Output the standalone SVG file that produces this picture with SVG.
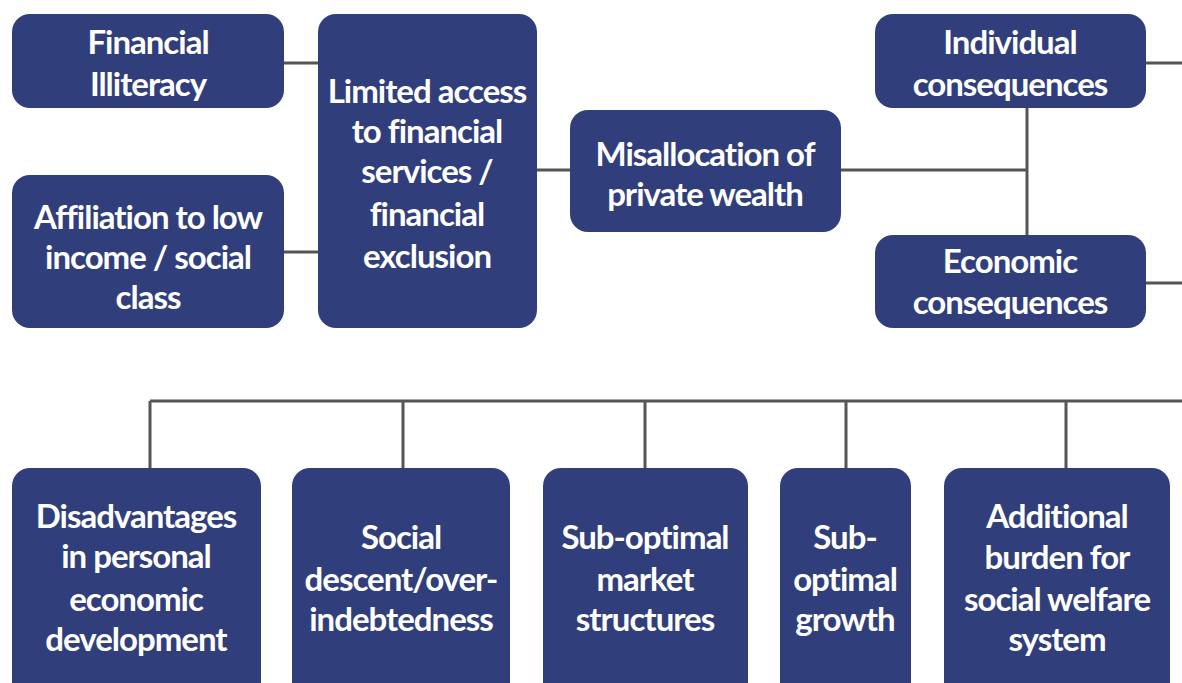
<svg xmlns="http://www.w3.org/2000/svg" width="1182" height="683" viewBox="0 0 1182 683">
  <style>
    .box { fill: #313e7c; }
    .lbl { fill: #ffffff; font-family: Lato, "Open Sans", "Liberation Sans", sans-serif; font-weight: 700; font-size: 33px; letter-spacing: -1px; text-anchor: middle; }
    .wire { fill: none; stroke: #555555; stroke-width: 3; }
  </style>
  <rect width="1182" height="683" fill="#ffffff"/>

  <!-- connectors -->
  <g id="connectors" class="wire">
    <path d="M284 63 H318"/>
    <path d="M284 252 H318"/>
    <path d="M537 170 H570"/>
    <path d="M841 170 H1027"/>
    <path d="M1027 108 V235"/>
    <path d="M1146 63 H1182"/>
    <path d="M1146 283 H1182"/>
    <path d="M150 401 H1182"/>
    <path d="M150 401 V485"/>
    <path d="M403 401 V468"/>
    <path d="M645 401 V468"/>
    <path d="M846 401 V468"/>
    <path d="M1066 401 V468"/>
  </g>

  <g id="financial-illiteracy">
    <rect class="box" x="12" y="14" width="272" height="94" rx="18"/>
    <text class="lbl"><tspan x="148" y="54">Financial</tspan><tspan x="148" y="96">Illiteracy</tspan></text>
  </g>

  <g id="affiliation">
    <rect class="box" x="12" y="175" width="272" height="153" rx="18"/>
    <text class="lbl"><tspan x="148" y="229">Affiliation to low</tspan><tspan x="148" y="269">income / social</tspan><tspan x="148" y="309">class</tspan></text>
  </g>

  <g id="limited-access">
    <rect class="box" x="318" y="14" width="219" height="314" rx="18"/>
    <text class="lbl"><tspan x="427" y="103">Limited access</tspan><tspan x="427" y="143">to financial</tspan><tspan x="427" y="183">services /</tspan><tspan x="427" y="226">financial</tspan><tspan x="427" y="268">exclusion</tspan></text>
  </g>

  <g id="misallocation">
    <rect class="box" x="570" y="110" width="271" height="122" rx="18"/>
    <text class="lbl"><tspan x="705" y="166">Misallocation of</tspan><tspan x="705" y="206">private wealth</tspan></text>
  </g>

  <g id="individual-consequences">
    <rect class="box" x="875" y="14" width="271" height="94" rx="18"/>
    <text class="lbl"><tspan x="1010" y="54">Individual</tspan><tspan x="1010" y="96">consequences</tspan></text>
  </g>

  <g id="economic-consequences">
    <rect class="box" x="875" y="235" width="271" height="93" rx="18"/>
    <text class="lbl"><tspan x="1010" y="273">Economic</tspan><tspan x="1010" y="314">consequences</tspan></text>
  </g>

  <g id="disadvantages">
    <rect class="box" x="12" y="468" width="249" height="240" rx="18"/>
    <text class="lbl"><tspan x="136" y="528">Disadvantages</tspan><tspan x="136" y="568">in personal</tspan><tspan x="136" y="611">economic</tspan><tspan x="136" y="651">development</tspan></text>
  </g>

  <g id="social-descent">
    <rect class="box" x="292" y="468" width="218" height="240" rx="18"/>
    <text class="lbl"><tspan x="401" y="549">Social</tspan><tspan x="401" y="591">descent/over-</tspan><tspan x="401" y="631">indebtedness</tspan></text>
  </g>

  <g id="market-structures">
    <rect class="box" x="543" y="468" width="205" height="240" rx="18"/>
    <text class="lbl"><tspan x="645" y="549">Sub-optimal</tspan><tspan x="645" y="591">market</tspan><tspan x="645" y="631">structures</tspan></text>
  </g>

  <g id="growth">
    <rect class="box" x="780" y="468" width="131" height="240" rx="18"/>
    <text class="lbl"><tspan x="845" y="549">Sub-</tspan><tspan x="845" y="591">optimal</tspan><tspan x="845" y="631">growth</tspan></text>
  </g>

  <g id="welfare-burden">
    <rect class="box" x="944" y="468" width="226" height="240" rx="18"/>
    <text class="lbl"><tspan x="1057" y="528">Additional</tspan><tspan x="1057" y="569">burden for</tspan><tspan x="1057" y="611">social welfare</tspan><tspan x="1057" y="651">system</tspan></text>
  </g>
</svg>
